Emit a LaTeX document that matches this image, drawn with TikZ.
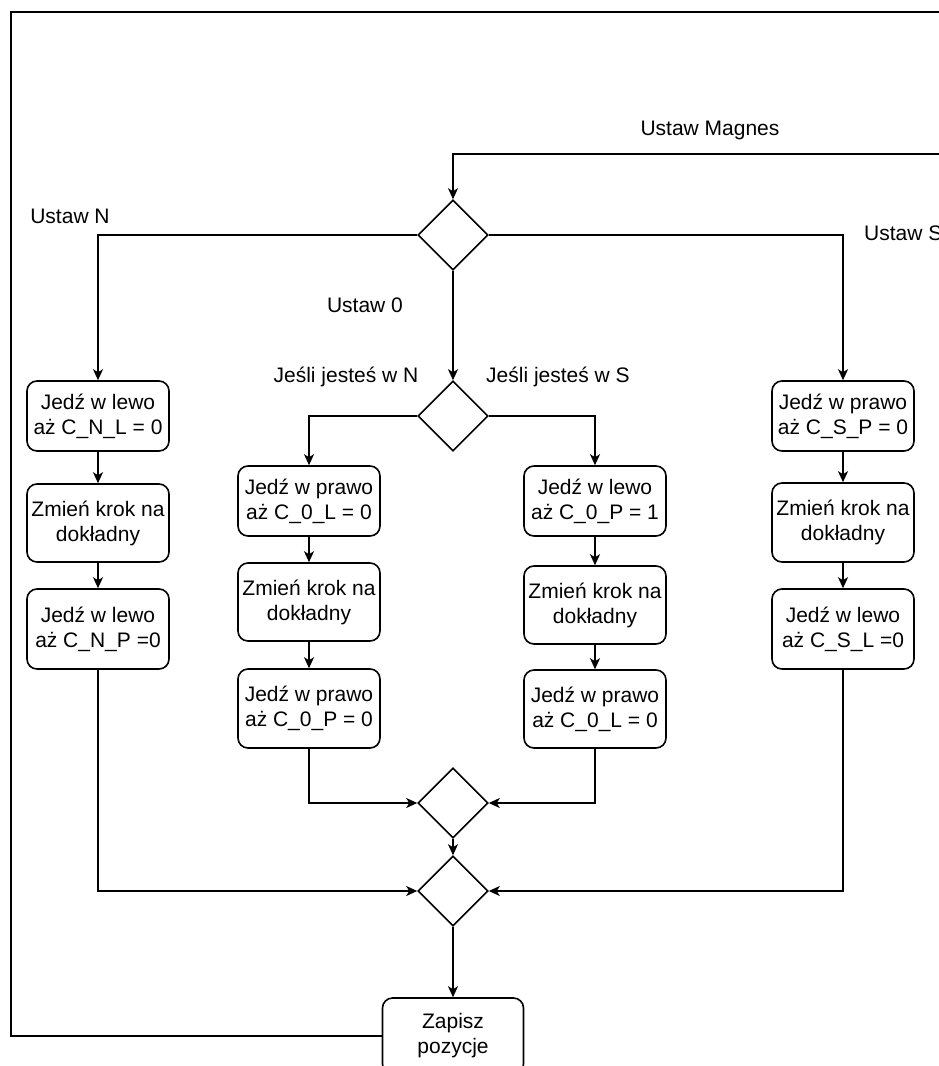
\documentclass[tikz,border=0pt]{standalone}
\usepackage{fontspec}
\setmainfont{Liberation Sans}
\usetikzlibrary{shapes.geometric,arrows.meta}
\begin{document}
\begin{tikzpicture}[x=1pt,y=-1pt,
  every node/.style={font=\fontsize{21}{25}\selectfont},
  stepbox/.style={draw, line width=1.6pt, rounded corners=10pt, align=center, inner sep=0pt, minimum width=142pt},
  decision/.style={draw, diamond, line width=1.6pt, inner sep=0pt, minimum width=70pt, minimum height=70pt},
  conn/.style={line width=1.6pt},
  arr/.style={conn, -{Stealth[length=11pt,width=10pt,inset=3pt]}},
  lbl/.style={inner sep=0pt}]
\useasboundingbox (0,0) rectangle (939,1066);
\clip (0,0) rectangle (939,1066);
% decisions
\node[decision] (d1) at (453,235) {};
\node[decision] (d2) at (453,416) {};
\node[decision] (d3) at (453,803) {};
\node[decision] (d4) at (453,891) {};
% N column
\node[stepbox, minimum height=70pt] (n1) at (98,416) {Jedź w lewo\\aż C\_N\_L = 0};
\node[stepbox, minimum height=78pt] (n2) at (98,523) {Zmień krok na\\dokładny};
\node[stepbox, minimum height=80pt] (n3) at (98,629) {Jedź w lewo\\aż C\_N\_P =0};
% 0 / N column
\node[stepbox, minimum height=70pt] (c1) at (309,501) {Jedź w prawo\\aż C\_0\_L = 0};
\node[stepbox, minimum height=78pt] (c2) at (309,602) {Zmień krok na\\dokładny};
\node[stepbox, minimum height=79pt] (c3) at (309,708.5) {Jedź w prawo\\aż C\_0\_P = 0};
% 0 / S column
\node[stepbox, minimum height=70pt] (r1) at (595,501) {Jedź w lewo\\aż C\_0\_P = 1};
\node[stepbox, minimum height=78pt] (r2) at (595,605) {Zmień krok na\\dokładny};
\node[stepbox, minimum height=78pt] (r3) at (595,709) {Jedź w prawo\\aż C\_0\_L = 0};
% S column
\node[stepbox, minimum height=70pt] (s1) at (843,416) {Jedź w prawo\\aż C\_S\_P = 0};
\node[stepbox, minimum height=79pt] (s2) at (843,522.5) {Zmień krok na\\dokładny};
\node[stepbox, minimum height=80pt] (s3) at (843,629) {Jedź w lewo\\aż C\_S\_L =0};
% save
\node[stepbox, minimum width=141pt, minimum height=76pt] (zap) at (453,1036) {Zapisz\\pozycje};
% labels
\node[lbl] (lm) at (710,130) {Ustaw Magnes};
\node[lbl] (ln) at (70,216) {Ustaw N};
\node[lbl, anchor=west] (ls) at (864,233) {Ustaw S};
\node[lbl] (l0) at (365,305) {Ustaw 0};
\node[lbl] (ljn) at (346,377) {Jeśli jesteś w N};
\node[lbl] (ljs) at (558,377) {Jeśli jesteś w S};
% loop coordinates
\coordinate (tl) at (11,12);
\coordinate (tr) at (980,12);
\coordinate (mr) at (980,154);
% connectors
\draw[arr] (zap.west) -| (tl) -- (tr) -- (mr) -| (d1.north);
\draw[arr] (d1.west) -| (n1.north);
\draw[arr] (d1.east) -| (s1.north);
\draw[arr] (d1.south) -- (d2.north);
\draw[arr] (d2.west) -| (c1.north);
\draw[arr] (d2.east) -| (r1.north);
\draw[arr] (n1) -- (n2);
\draw[arr] (n2) -- (n3);
\draw[arr] (c1) -- (c2);
\draw[arr] (c2) -- (c3);
\draw[arr] (r1) -- (r2);
\draw[arr] (r2) -- (r3);
\draw[arr] (s1) -- (s2);
\draw[arr] (s2) -- (s3);
\draw[arr] (c3.south) |- (d3.west);
\draw[arr] (r3.south) |- (d3.east);
\draw[arr] (d3.south) -- (d4.north);
\draw[arr] (n3.south) |- (d4.west);
\draw[arr] (s3.south) |- (d4.east);
\draw[arr] (d4.south) -- (zap.north);
\end{tikzpicture}
\end{document}
